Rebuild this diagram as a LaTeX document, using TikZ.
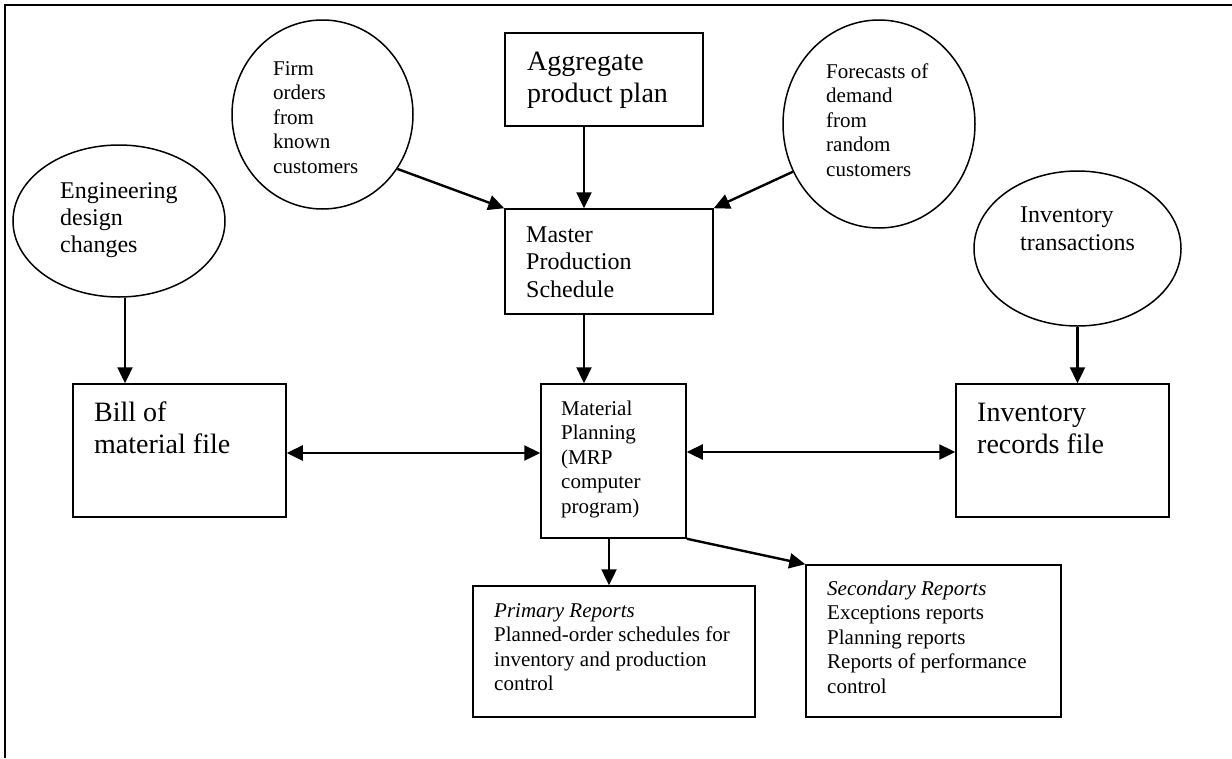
\documentclass[tikz,border=0pt]{standalone}
\usepackage{fontspec}
\setmainfont{Liberation Serif}
\usetikzlibrary{arrows.meta,shapes.geometric}
\newcommand\textlines[1]{\begin{tabular}[t]{@{}l@{}}#1\end{tabular}}
\begin{document}
\begin{tikzpicture}[x=1pt,y=-1pt,
  box/.style={draw,line width=1.5pt,rectangle,inner sep=0pt},
  oval/.style={draw,line width=1.5pt,ellipse,inner sep=0pt},
  txt/.style={anchor=base west,inner sep=0pt},
  big/.style={font=\fontsize{28}{32}\selectfont},
  mid/.style={font=\fontsize{24}{27.5}\selectfont},
  small/.style={font=\fontsize{21}{24.5}\selectfont},
  tip/.style={Triangle[length=16pt,width=15pt]},
  link/.style={line width=2.4pt,-{Triangle[length=16pt,width=15pt]}},
  both/.style={line width=2.4pt,{Triangle[length=16pt,width=15pt]}-{Triangle[length=16pt,width=15pt]}}]
\useasboundingbox (0,0) rectangle (1232,758);

% page frame (top and left edges)
\draw[line width=1.8pt] (5,758) -- (5,5) -- (1232,5);

% boxes
\node[box,minimum width=198pt,minimum height=93pt]  (agg)  at (604,79.5)   {};
\node[box,minimum width=208pt,minimum height=105pt] (mps)  at (609,261.5)  {};
\node[box,minimum width=213pt,minimum height=133pt] (bom)  at (179.5,450.5){};
\node[box,minimum width=145pt,minimum height=154pt] (mrp)  at (613.5,461)  {};
\node[box,minimum width=213pt,minimum height=133pt] (inv)  at (1062.5,450.5){};
\node[box,minimum width=282pt,minimum height=131pt] (prim) at (614,651.5)  {};
\node[box,minimum width=255pt,minimum height=152pt] (sec)  at (933.5,641)  {};

% ellipses
\node[oval,minimum width=181pt,minimum height=189pt] (firm)  at (322.5,114.5) {};
\node[oval,minimum width=212pt,minimum height=152pt] (eng)   at (119,221)     {};
\node[oval,minimum width=192pt,minimum height=208pt] (fore)  at (879,124)     {};
\node[oval,minimum width=207pt,minimum height=155pt] (trans) at (1077.5,248.5) {};

% texts
\node[txt,big]   (aggt)   at (527,70)  {\textlines{Aggregate\\product plan}};
\node[txt,mid]   (mpst)   at (526,242) {\textlines{Master\\Production\\Schedule}};
\node[txt,big]   (bomt)   at (94,421)  {\textlines{Bill of\\material file}};
\node[txt,small] (mrpt)   at (561,415) {\textlines{Material\\Planning\\(MRP\\computer\\program)}};
\node[txt,big]   (invt)   at (977,421) {\textlines{Inventory\\records file}};
\node[txt,small] (primt)  at (494,617) {\textlines{\textit{Primary Reports}\\Planned-order schedules for\\inventory and production\\control}};
\node[txt,small] (sect)   at (827,595) {\textlines{\textit{Secondary Reports}\\Exceptions reports\\Planning reports\\Reports of performance\\control}};
\node[txt,small] (firmt)  at (273,75)  {\textlines{Firm\\orders\\from\\known\\customers}};
\node[txt,font=\fontsize{24}{27}\selectfont] (engt) at (60,198) {\textlines{Engineering\\design\\changes}};
\node[txt,small] (foret)  at (826,78)  {\textlines{Forecasts of\\demand\\from\\random\\customers}};
\node[txt,font=\fontsize{24}{28}\selectfont] (transt) at (1020,222) {\textlines{Inventory\\transactions}};

% reference positions for the straight connectors
\coordinate (colA) at (584,0);
\coordinate (colB) at (609,0);
\coordinate (colC) at (125,0);
\coordinate (rowL) at (0,453);
\coordinate (rowR) at (0,452);

% connectors
\draw[link] (agg.south -| colA) -- (mps.north -| colA);
\draw[link] (firm.-36) -- (mps.north west);
\draw[link] (fore.209) -- (mps.north east);
\draw[link] (mps.south -| colA) -- (mrp.north -| colA);
\draw[link] (eng.south -| colC) -- (bom.north -| colC);
\draw[link] (trans.south) -- (trans.south |- inv.north);
\draw[both] (bom.east |- rowL) -- (mrp.west |- rowL);
\draw[both] (mrp.east |- rowR) -- (inv.west |- rowR);
\draw[link] (mrp.south -| colB) -- (prim.north -| colB);
\draw[link] (mrp.south east) -- (sec.north west);
\end{tikzpicture}
\end{document}
